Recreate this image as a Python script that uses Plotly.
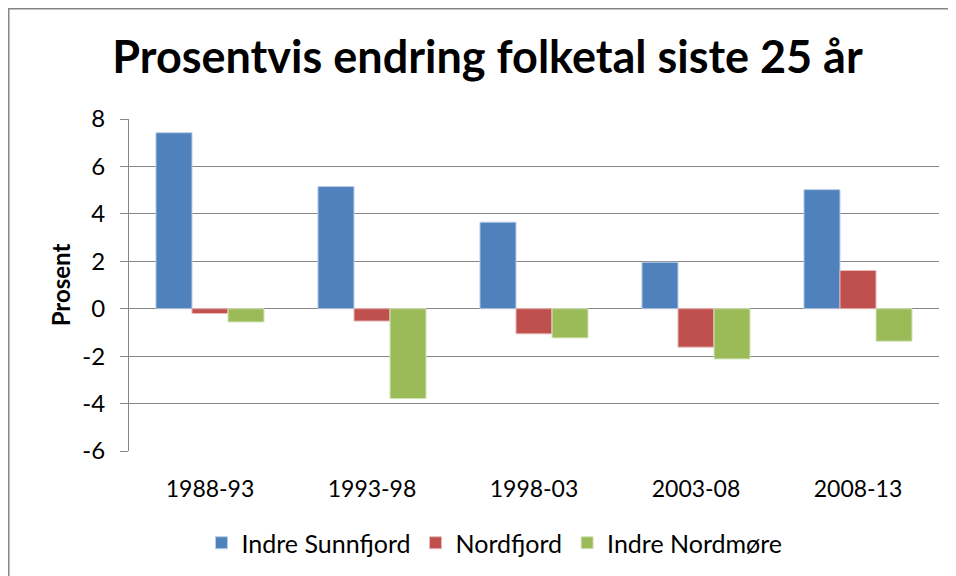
import plotly.graph_objects as go

categories = ["1988-93", "1993-98", "1998-03", "2003-08", "2008-13"]
indre_sunnfjord = [7.42, 5.15, 3.65, 1.96, 5.02]
nordfjord = [-0.2, -0.52, -1.06, -1.62, 1.61]
indre_nordmore = [-0.56, -3.79, -1.23, -2.12, -1.37]
series_names = ["Indre Sunnfjord", "Nordfjord", "Indre Nordmøre"]
y_ticks = [-6, -4, -2, 0, 2, 4, 6, 8]
y_ticktext = ["-6", "-4", "-2", "0", "2", "4", "6", "8"]

# page body has an 8px margin; figure coordinates = screen coordinates - 8
OFF = 8
W, H = 956 - OFF, 576 - OFF
ml, mr, mt, mb = 129 - OFF, 956 - 939, 119 - OFF, 576 - 451
pw, ph = W - ml - mr, H - mt - mb

FONT = "Lato"
colors = ["#4F81BD", "#C0504D", "#9BBB59"]
edges = ["#B9CDE5", "#E6B9B8", "#D7E4BD"]

fig = go.Figure()
for name, vals, c, e in zip(series_names, [indre_sunnfjord, nordfjord, indre_nordmore], colors, edges):
    fig.add_trace(go.Bar(x=categories, y=vals, name=name,
                         marker=dict(color=c, line=dict(color=e, width=1))))

def px2paper_x(px):
    return (px - OFF - ml) / pw

def px2paper_y(py):
    return (H - mb - (py - OFF)) / ph

fig.add_shape(type="rect", xref="paper", yref="paper",
              x0=px2paper_x(8.75), x1=px2paper_x(1000),
              y0=px2paper_y(700), y1=px2paper_y(8.75),
              line=dict(color="#868686", width=1.5), fillcolor="rgba(0,0,0,0)", layer="below")

fig.update_layout(
    width=W, height=H,
    margin=dict(l=ml, r=mr, t=mt, b=mb),
    paper_bgcolor="white", plot_bgcolor="white",
    barmode="group", bargap=0.333, bargroupgap=0,
    font=dict(family=FONT, color="black", size=23),
    title=dict(text="<b>Prosentvis endring folketal siste 25 år</b>",
               font=dict(family=FONT, size=45, color="black"),
               x=(487.5 - OFF) / W, xanchor="center", xref="container",
               y=1 - (57 - OFF) / H, yanchor="middle", yref="container"),
    legend=dict(orientation="h", x=(494.5 - OFF) / W, xanchor="center", xref="container",
                y=1 - (543 - OFF) / H, yanchor="middle", yref="container",
                font=dict(family=FONT, size=25), itemwidth=30,
                traceorder="normal", tracegroupgap=0),
    showlegend=True,
    xaxis=dict(type="category", showgrid=False, showline=False, ticks="", zeroline=False,
               tickfont=dict(family=FONT, size=23), ticklabelstandoff=22),
    yaxis=dict(range=[-6, 8], tickvals=y_ticks, ticktext=y_ticktext,
               showgrid=True, gridcolor="#868686", gridwidth=1,
               zeroline=True, zerolinecolor="#868686", zerolinewidth=1,
               showline=True, linecolor="#868686", linewidth=1,
               ticks="outside", ticklen=8, tickcolor="#868686",
               tickfont=dict(family=FONT, size=24), ticklabelstandoff=10,
               title=dict(text="<b>Prosent</b>", font=dict(family=FONT, size=24), standoff=4)),
)

fig.write_html("out.html")
